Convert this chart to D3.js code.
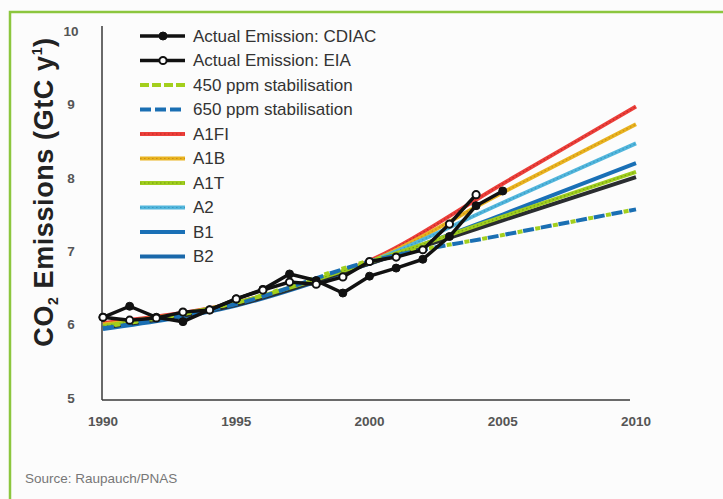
<!DOCTYPE html>
<html>
<head>
<meta charset="utf-8">
<script src="https://cdn.jsdelivr.net/npm/d3@7"></script>
<style>
  body { margin: 0; background: #fcfcfc; }
  svg { display: block; font-family: "Liberation Sans", Arial, Helvetica, sans-serif; }
</style>
</head>
<body>
<div class="canvas"></div>
<script>
// data
const years = [1990, 1991, 1992, 1993, 1994, 1995, 1996, 1997, 1998, 1999, 2000, 2001, 2002, 2003, 2004, 2005];
const cdiac = [6.10, 6.25, 6.10, 6.04, 6.20, 6.35, 6.48, 6.69, 6.60, 6.43, 6.66, 6.77, 6.89, 7.20, 7.62, 7.82];
const eia = [6.10, 6.06, 6.09, 6.17, 6.20, 6.35, 6.47, 6.58, 6.55, 6.65, 6.86, 6.92, 7.02, 7.37, 7.77];

const scenYears = [1990, 1995, 2000, 2005, 2010];
const scenarios = ["A1FI", "A1B", "A2", "B1", "B2", "A1T", "650 ppm stabilisation", "450 ppm stabilisation"];
const scenValues = [
  [6.02, 6.30, 6.87, 7.92, 8.97],
  [6.00, 6.29, 6.85, 7.80, 8.73],
  [5.97, 6.28, 6.85, 7.66, 8.47],
  [5.94, 6.26, 6.83, 7.50, 8.20],
  [5.96, 6.27, 6.83, 7.42, 8.01],
  [5.98, 6.30, 6.85, 7.47, 8.08],
  [5.95, 6.28, 6.86, 7.22, 7.57],
  [5.97, 6.30, 6.87, 7.22, 7.57]
];

const legendLabels = ["Actual Emission: CDIAC", "Actual Emission: EIA", "450 ppm stabilisation", "650 ppm stabilisation",
  "A1FI", "A1B", "A1T", "A2", "B1", "B2"];
const yTicks = [5, 6, 7, 8, 9, 10];
const xTicks = [1990, 1995, 2000, 2005, 2010];

// styles
const lineColor = {
  "A1FI": "#ec3f3a", "A1B": "#e9b320", "A1T": "#9fcd1e", "A2": "#52b6dc",
  "B1": "#1a70b6", "B2": "#2a2d30",
  "450 ppm stabilisation": "#a3cf1c", "650 ppm stabilisation": "#1a6fb3"
};
const swatchColor = Object.assign({}, lineColor, { "B2": "#1a68aa" });
const texture = { "A1FI": "#a8201c", "A1B": "#b57a10", "A1T": "#5c7f10", "A2": "#2a86b0" };

const width = 723, height = 499;

const svg = d3.select(".canvas").append("svg")
  .attr("width", width)
  .attr("height", height);

svg.append("rect").attr("width", width).attr("height", height).attr("fill", "#fcfcfc");

// green frame (runs off the right/bottom edge)
svg.append("rect")
  .attr("x", 10).attr("y", 12)
  .attr("width", 800).attr("height", 600)
  .attr("fill", "none")
  .attr("stroke", "#8cc63e")
  .attr("stroke-width", 2.5);

// scales
const x = d3.scaleLinear().domain([1990, 2010]).range([103, 636]);
const y = d3.scaleLinear().domain([5, 10]).range([398, 31]);

// axes lines
svg.append("line").attr("x1", 102).attr("x2", 102).attr("y1", 26).attr("y2", 400)
  .attr("stroke", "#3a3a3a").attr("stroke-width", 1.5);
svg.append("line").attr("x1", 102).attr("x2", 630).attr("y1", 400).attr("y2", 400)
  .attr("stroke", "#3a3a3a").attr("stroke-width", 1.5);

// tick labels
svg.append("g").selectAll("text").data(yTicks).enter().append("text")
  .attr("x", 71)
  .attr("y", (d) => y(d))
  .attr("dy", "0.35em")
  .attr("text-anchor", "middle")
  .attr("font-size", 13.5)
  .attr("font-weight", "bold")
  .attr("fill", "#555")
  .text((d) => d);

svg.append("g").selectAll("text").data(xTicks).enter().append("text")
  .attr("x", (d) => x(d))
  .attr("y", 421)
  .attr("dy", "0.35em")
  .attr("text-anchor", "middle")
  .attr("font-size", 13.5)
  .attr("font-weight", "bold")
  .attr("fill", "#555")
  .text((d) => d);

// y axis title
const title = svg.append("text")
  .attr("transform", "translate(53,192) rotate(-90)")
  .attr("text-anchor", "middle")
  .attr("font-size", 27)
  .attr("letter-spacing", 0.6)
  .attr("font-weight", "bold")
  .attr("fill", "#222");
title.append("tspan").text("CO");
title.append("tspan").attr("font-size", 14).attr("dy", 5).text("2");
title.append("tspan").attr("dy", -5).text(" Emissions (GtC y");
title.append("tspan").attr("font-size", 14).attr("dy", -11).text("1");
title.append("tspan").attr("dy", 11).text(")");

// scenario lines
const scenLine = d3.line()
  .x((d) => x(d[0]))
  .y((d) => y(d[1]))
  .curve(d3.curveMonotoneX);

const scenGroup = svg.append("g");
scenarios.forEach((name, i) => {
  const pts = scenYears.map((yr, j) => [yr, scenValues[i][j]]);
  const p = scenGroup.append("path")
    .datum(pts)
    .attr("fill", "none")
    .attr("stroke", lineColor[name])
    .attr("stroke-width", 4)
    .attr("d", scenLine);
  if (name === "650 ppm stabilisation") p.attr("stroke-dasharray", "11,7");
  if (name === "450 ppm stabilisation") p.attr("stroke-dasharray", "5,13").attr("stroke-dashoffset", -12);
  if (texture[name]) {
    scenGroup.append("path")
      .datum(pts)
      .attr("fill", "none")
      .attr("stroke", texture[name])
      .attr("stroke-width", 1.2)
      .attr("stroke-dasharray", "1.5,2.5")
      .attr("opacity", 0.6)
      .attr("d", scenLine);
  }
});

// actual emissions
const obsLine = d3.line()
  .x((d) => x(d[0]))
  .y((d) => y(d[1]));

const drawObs = (vals, filled) => {
  const pts = vals.map((v, i) => [years[i], v]);
  svg.append("path")
    .datum(pts)
    .attr("fill", "none")
    .attr("stroke", "#111")
    .attr("stroke-width", 3.5)
    .attr("stroke-linejoin", "round")
    .attr("d", obsLine);
  svg.append("g").selectAll("circle").data(pts).enter().append("circle")
    .attr("cx", (d) => x(d[0]))
    .attr("cy", (d) => y(d[1]))
    .attr("r", filled ? 4 : 3.6)
    .attr("fill", filled ? "#111" : "#fff")
    .attr("stroke", "#111")
    .attr("stroke-width", filled ? 1 : 2);
};
drawObs(cdiac, true);
drawObs(eia, false);

// legend
const legend = svg.append("g");
legendLabels.forEach((label, i) => {
  const ly = 36 + i * 24.5;
  const row = legend.append("g").attr("transform", `translate(0,${ly})`);
  if (i < 2) {
    row.append("line").attr("x1", 140).attr("x2", 185)
      .attr("stroke", "#111").attr("stroke-width", 3.5);
    row.append("circle").attr("cx", 163).attr("r", i === 0 ? 4 : 3.6)
      .attr("fill", i === 0 ? "#111" : "#fff")
      .attr("stroke", "#111").attr("stroke-width", i === 0 ? 1 : 2);
  } else {
    const sw = row.append("line").attr("x1", 140).attr("x2", 185)
      .attr("stroke", swatchColor[label]).attr("stroke-width", 4);
    if (label === "450 ppm stabilisation") sw.attr("stroke-dasharray", "9,3");
    if (label === "650 ppm stabilisation") sw.attr("stroke-dasharray", "11,4");
    if (texture[label]) {
      row.append("line").attr("x1", 140).attr("x2", 185)
        .attr("stroke", texture[label]).attr("stroke-width", 1.2)
        .attr("stroke-dasharray", "1.5,2.5").attr("opacity", 0.6);
    }
  }
  row.append("text")
    .attr("x", 193)
    .attr("dy", "0.35em")
    .attr("font-size", 17)
    .attr("fill", "#333")
    .text(label);
});

// source
svg.append("text")
  .attr("x", 25)
  .attr("y", 483)
  .attr("font-size", 13.5)
  .attr("fill", "#777")
  .text("Source: Raupauch/PNAS");
</script>
</body>
</html>
